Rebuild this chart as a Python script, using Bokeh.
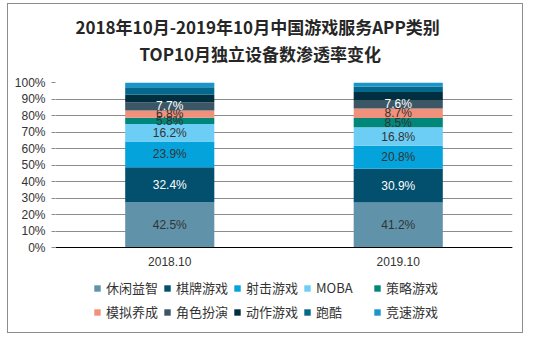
import numpy as np
from bokeh.plotting import figure
from bokeh.models import (FactorRange, Range1d, Legend, LegendItem, Title, ColumnDataSource)
from bokeh.core.properties import value
from bokeh.embed import file_html
from bokeh.resources import INLINE

# ---------------- data ----------------
periods = ["2018.10", "2019.10"]
series = ["休闲益智", "棋牌游戏", "射击游戏", "MOBA", "策略游戏",
          "模拟养成", "角色扮演", "动作游戏", "跑酷", "竞速游戏"]
rate_2018 = [42.5, 32.4, 23.9, 16.2, 5.8, 6.8, 7.7, 7.0, 6.9, 4.4]
rate_2019 = [41.2, 30.9, 20.8, 16.8, 8.5, 8.7, 7.6, 7.4, 4.9, 3.7]
labeled_count = 7
y_ticks = [0, 10, 20, 30, 40, 50, 60, 70, 80, 90, 100]
y_tick_labels = ["0%", "10%", "20%", "30%", "40%", "50%", "60%", "70%", "80%", "90%", "100%"]

# ---------------- styles ----------------
colors = ["#6093A9", "#02506D", "#04A3DC", "#6DCEF5", "#01877A",
          "#F2917B", "#3B5766", "#012F3F", "#03688C", "#1A95CA"]
label_colors = ["#333333", "#FFFFFF", "#333333", "#333333", "#333333",
                "#333333", "#FFFFFF"]
CJK = "Noto Sans CJK SC"
LAT = "Liberation Sans"

raw = np.array([rate_2018, rate_2019], dtype=float)
share = raw / raw.sum(axis=1, keepdims=True) * 100.0

data = {"period": periods}
for i, s in enumerate(series):
    data[s] = share[:, i]
source = ColumnDataSource(data)

# frame extends below 0 so the legend sits inside it
p = figure(x_range=FactorRange(factors=periods), y_range=Range1d(-50, 100),
           width=514, height=328, output_backend="svg", toolbar_location=None,
           min_border_left=47, min_border_right=12, min_border_top=78,
           min_border_bottom=4, background_fill_color="white",
           border_fill_color="white", outline_line_color=None,
           styles={"border": "1px solid #8c8c8c", "box-sizing": "content-box",
                   "margin-left": "7px", "margin-top": "3px"})

renderers = p.vbar_stack(series, x="period", width=0.39, color=colors,
                         line_color=None, source=source)

# data labels
lx, ly, lt, lc = [], [], [], []
for j, per in enumerate(periods):
    cum = np.concatenate([[0.0], np.cumsum(share[j])])
    for i in range(labeled_count):
        lx.append(per)
        ly.append((cum[i] + cum[i + 1]) / 2.0)
        lt.append(f"{raw[j, i]:.1f}%")
        lc.append(label_colors[i])
lab_src = ColumnDataSource(dict(x=lx, y=ly, text=lt, color=lc))
p.text(x="x", y="y", text="text", text_color="color", source=lab_src,
       text_align="center", text_baseline="middle",
       text_font=value(LAT), text_font_size="12px")

# axes
p.yaxis.ticker = y_ticks
p.yaxis.major_label_overrides = {t: l for t, l in zip(y_ticks, y_tick_labels)}
p.yaxis.axis_line_color = None
p.yaxis.major_tick_line_color = "#8c8c8c"
p.yaxis.major_tick_out = 4
p.yaxis.major_tick_in = 0
p.yaxis.minor_tick_line_color = None
p.yaxis.major_label_text_font = LAT
p.yaxis.major_label_text_font_size = "12px"
p.yaxis.major_label_text_color = "#333333"
p.yaxis.major_label_standoff = 6

p.xaxis.fixed_location = 0
p.xaxis.axis_line_color = "#000000"
p.xaxis.major_tick_line_color = None
p.xaxis.minor_tick_line_color = None
p.xaxis.major_label_text_font = LAT
p.xaxis.major_label_text_font_size = "12px"
p.xaxis.major_label_text_color = "#333333"
p.xaxis.major_label_standoff = 3

p.xgrid.grid_line_color = None
p.ygrid.grid_line_color = "#8c8c8c"
p.ygrid.grid_line_width = 1

# titles (spacer first, nearest the frame)
p.add_layout(Title(text=" ", text_font_size="1px", standoff=14), "above")
p.add_layout(Title(text="TOP10月独立设备数渗透率变化", align="left", offset=84,
                   text_font=CJK, text_font_size="17px", text_font_style="bold",
                   text_color="#262626", standoff=0), "above")
p.add_layout(Title(text="2018年10月-2019年10月中国游戏服务APP类别", align="left", offset=20,
                   text_font=CJK, text_font_size="17px", text_font_style="bold",
                   text_color="#262626", standoff=0), "above")

# legend (inside the extended frame)
items = [LegendItem(label=s, renderers=[r]) for s, r in zip(series, renderers)]
legend = Legend(items=items, orientation="horizontal", ncols=5,
                location=(38, 9), glyph_width=8, glyph_height=8,
                label_standoff=5, label_width=52, label_height=18, spacing=5,
                padding=0, margin=0, border_line_color=None,
                background_fill_alpha=0, label_text_font=CJK,
                label_text_font_size="13px", label_text_color="#333333")
p.add_layout(legend, "center")

open("out.html", "w").write(file_html(p, INLINE))
